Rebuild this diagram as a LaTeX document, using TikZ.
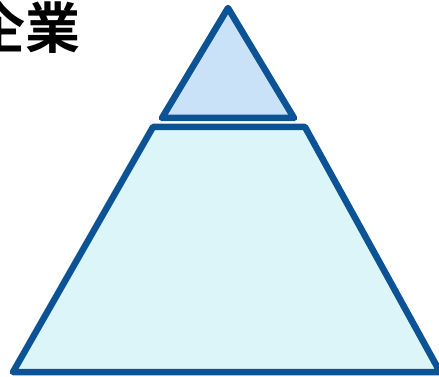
\documentclass[tikz,border=0pt]{standalone}
\usepackage{fontspec}
\newfontfamily\cjk{Noto Sans CJK JP Bold}
\definecolor{edgeblue}{HTML}{0B5394}
\definecolor{topfill}{HTML}{C9E2F8}
\definecolor{basefill}{HTML}{DCF5F9}
\tikzset{
  layer/.style={draw=edgeblue, line width=6.5pt, line join=round},
  title/.style={font=\cjk\fontsize{55}{55}\selectfont, inner sep=0pt, text=black}
}
\begin{document}
\begin{tikzpicture}[x=1pt,y=-1pt]
\useasboundingbox[fill=white] (0,0) rectangle (439,377);
\coordinate (apex) at (228,8);
\coordinate (tl) at (162,118);
\coordinate (tr) at (294,118);
\coordinate (bl1) at (153,127);
\coordinate (br1) at (305,127);
\coordinate (bl2) at (13,372);
\coordinate (br2) at (440,372);
\draw[layer, fill=topfill] (apex) -- (tr) -- (tl) -- cycle;
\draw[layer, fill=basefill] (bl1) -- (br1) -- (br2) -- (bl2) -- cycle;
\node[title, anchor=base east] (t) at (81,49) {企業};
\end{tikzpicture}
\end{document}
